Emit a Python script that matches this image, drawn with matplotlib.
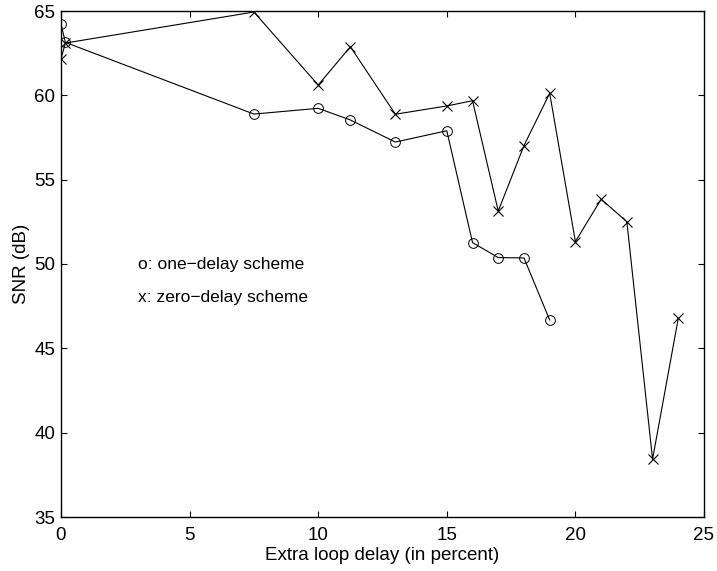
import matplotlib
matplotlib.use('Agg')
import matplotlib.pyplot as plt

# one-delay scheme (circles)
delay_one = [0, 0.17, 7.5, 10, 11.25, 13, 15, 16, 17, 18, 19]
snr_one = [64.23, 63.14, 58.89, 59.23, 58.54, 57.23, 57.9, 51.27, 50.38, 50.36, 46.68]

# zero-delay scheme (crosses)
delay_zero = [0, 0.17, 7.5, 10, 11.25, 13, 15, 16, 17, 18, 19, 20, 21, 22, 23, 24]
snr_zero = [62.15, 63.1, 64.94, 60.61, 62.88, 58.88, 59.37, 59.68, 53.14, 57.02,
            60.12, 51.33, 53.84, 52.51, 38.43, 46.78]

xticks = [0, 5, 10, 15, 20, 25]
yticks = [35, 40, 45, 50, 55, 60, 65]

plt.rcParams['font.family'] = ['Liberation Sans', 'DejaVu Sans']
plt.rcParams['font.size'] = 13.5

fig = plt.figure(figsize=(7.17, 5.71), dpi=100)
ax = fig.add_axes([61 / 717, 1 - 517 / 571, (704 - 61) / 717, (517 - 11) / 571])

ax.plot(delay_one, snr_one, color='black', linewidth=0.8, marker='o',
        markersize=7, markerfacecolor='none', markeredgewidth=0.7)
ax.plot(delay_zero, snr_zero, color='black', linewidth=0.8, marker='x',
        markersize=7, markeredgewidth=0.8)

ax.text(3, 50, 'o: one\u2212delay scheme', va='center', ha='left', fontsize=12.5)
ax.text(3, 48, 'x: zero\u2212delay scheme', va='center', ha='left', fontsize=12.5)

ax.set_xlim(0, 25)
ax.set_ylim(35, 65)
ax.set_xticks(xticks)
ax.set_yticks(yticks)
ax.tick_params(direction='in', top=True, right=True, length=4, width=0.8)
ax.tick_params(axis='x', pad=7)
ax.tick_params(axis='y', pad=4)
for s in ax.spines.values():
    s.set_linewidth(1.0)

ax.set_xlabel('Extra loop delay (in percent)', labelpad=2)
ax.set_ylabel('SNR (dB)', labelpad=3)

fig.savefig('out.png', dpi=100)
